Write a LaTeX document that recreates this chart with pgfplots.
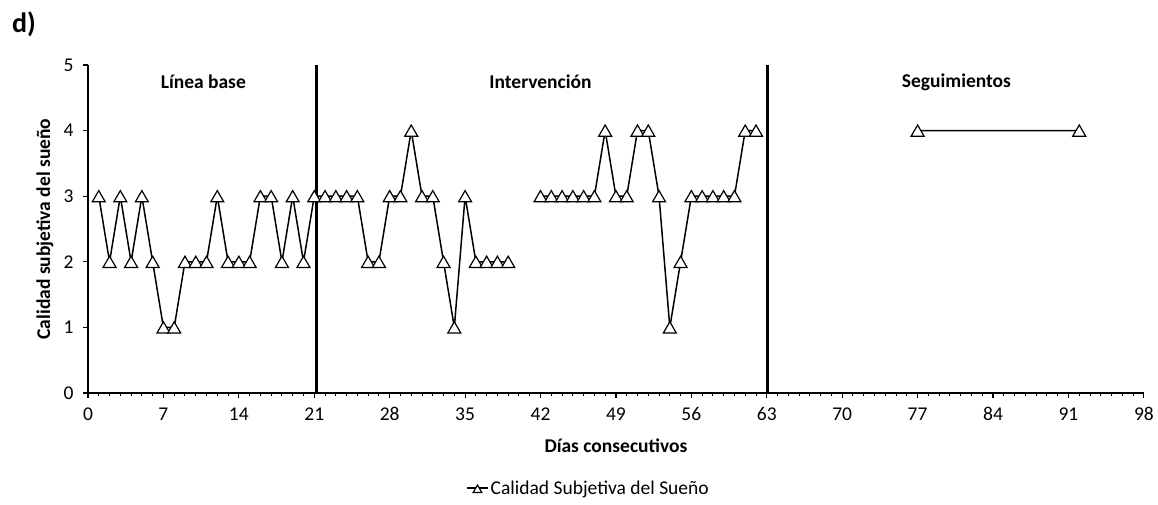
\documentclass[border=0pt]{standalone}
\usepackage{fontspec}
\setmainfont{Carlito}
\usepackage{pgfplots}
\pgfplotsset{compat=1.18}
\usepackage{pgfplotstable}

\pgfplotstableread{
x y
1 3
2 2
3 3
4 2
5 3
6 2
7 1
8 1
9 2
10 2
11 2
12 3
13 2
14 2
15 2
16 3
17 3
18 2
19 3
20 2
21 3
22 3
23 3
24 3
25 3
26 2
27 2
28 3
29 3
30 4
31 3
32 3
33 2
34 1
35 3
36 2
37 2
38 2
39 2
40 nan
42 3
43 3
44 3
45 3
46 3
47 3
48 4
49 3
50 3
51 4
52 4
53 3
54 1
55 2
56 3
57 3
58 3
59 3
60 3
61 4
62 4
70 nan
77 4
92 4
}\datatable

\begin{document}
\begin{tikzpicture}
\useasboundingbox (-88pt,-112pt) rectangle (1070pt,393pt);
\begin{axis}[
  at={(0pt,0pt)}, anchor=south west,
  scale only axis,
  width=1056pt, height=328pt,
  xmin=0, xmax=98, ymin=0, ymax=5,
  xtick={0,7,...,98}, ytick={0,1,...,5},
  minor x tick num=6,
  axis lines*=left,
  axis line style={line width=1.2pt, black},
  tick align=outside,
  major tick length=5pt,
  minor tick length=3pt,
  tick style={line width=1.2pt, black},
  minor tick style={line width=1pt, black},
  /pgf/number format/assume math mode=true,
  tick label style={font=\fontsize{19.5}{22}\selectfont},
  xticklabel style={yshift=-6pt},
  yticklabel style={xshift=-6pt},
  xlabel={\textbf{Días consecutivos}},
  ylabel={\textbf{Calidad subjetiva del sueño}},
  label style={font=\fontsize{19.5}{22}\selectfont},
  xlabel style={at={(axis description cs:0.5,-0.16)}, anchor=center},
  ylabel style={at={(axis description cs:-0.0407,0.5)}, anchor=center},
  unbounded coords=jump,
  clip=false,
  legend style={at={(axis description cs:0.474,-0.29)}, anchor=center, draw=none,
    font=\fontsize{19.5}{22}\selectfont},
  legend image code/.code={
    \draw[#1, mark=none] (0pt,0pt) -- (21pt,0pt);
    \draw[#1, mark size=5pt] plot coordinates {(10.5pt,0pt)};
  },
]
\addplot[black, line width=1.5pt, mark=triangle*, mark size=7.5pt,
  mark options={fill=white, draw=black, line width=1.2pt, solid, yshift=-1.9pt}]
  table[x=x, y=y] {\datatable};
\addlegendentry{Calidad Subjetiva del Sueño}
\draw[black, line width=3pt] (axis cs:21.2,0) -- (axis cs:21.2,5);
\draw[black, line width=3pt] (axis cs:63.1,0) -- (axis cs:63.1,5);
\node[font=\fontsize{19.5}{22}\selectfont\bfseries] at (axis cs:10.7,4.74) {Línea base};
\node[font=\fontsize{19.5}{22}\selectfont\bfseries] at (axis cs:42,4.74) {Intervención};
\node[font=\fontsize{19.5}{22}\selectfont\bfseries] at (axis cs:80.6,4.74) {Seguimientos};
\end{axis}
\node[font=\fontsize{28}{32}\selectfont\bfseries] at (-64pt,369pt) {d)};
\end{tikzpicture}
\end{document}
